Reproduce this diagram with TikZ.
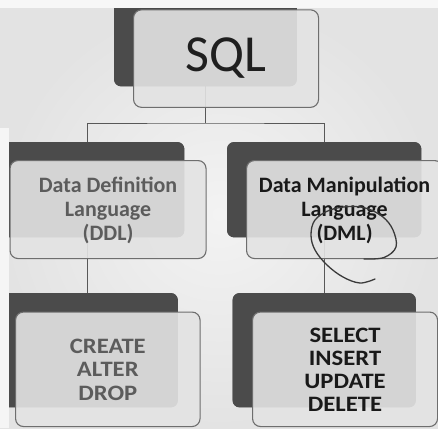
\documentclass[tikz,border=0pt]{standalone}
\usepackage{fontspec}
\setmainfont{Carlito}
\definecolor{bgin}{HTML}{F3F3F3}
\definecolor{bgout}{HTML}{E3E3E3}
\definecolor{shadowc}{HTML}{4B4B4B}
\definecolor{frontc}{HTML}{E3E3E3}
\definecolor{edgec}{HTML}{6E6E6E}
\definecolor{linec}{HTML}{585858}
\definecolor{greytext}{HTML}{5C5C5C}
\definecolor{pen}{HTML}{3A3A3A}
\tikzset{
  backbox/.style={fill=shadowc, draw=none, rounded corners=7pt, inner sep=0pt, anchor=north west},
  frontbox/.style={fill=frontc, fill opacity=0.9, text opacity=1, draw=edgec, line width=1.1pt, rounded corners=8pt, inner sep=0pt, anchor=north west},
  conn/.style={draw=linec, line width=0.9pt},
  bodytext/.style={align=center, font=\fontsize{22}{24}\selectfont\bfseries, inner sep=0pt},
  cmdtext/.style={inner sep=0pt},
}
\newcommand{\cmdlines}[2]{\scalebox{1.12}[1]{\fontsize{22}{#1}\selectfont\bfseries\begin{tabular}{@{}c@{}}#2\end{tabular}}}
\begin{document}
\begin{tikzpicture}[x=1pt, y=-1pt]
\useasboundingbox (0,0) rectangle (438,428);
\shade[inner color=bgin, outer color=bgout] (0,0) rectangle (438,428);

% back (shadow) boxes, used as connector ends
\node[backbox, minimum width=182.5pt, minimum height=98pt] (sqlS) at (114,-12) {};
\node[backbox, minimum width=194pt, minimum height=95pt] (ddlS) at (-10,142) {};
\node[backbox, minimum width=194pt, minimum height=95pt] (dmlS) at (227,142) {};
\node[backbox, minimum width=181pt, minimum height=114pt] (creS) at (-3.5,293) {};
\node[backbox, minimum width=183pt, minimum height=114pt] (selS) at (232.5,293) {};
\coordinate (hub) at (sqlS.south |- 0,123);

% connectors
\path[conn] (sqlS.south) -- (hub);
\path[conn] (ddlS.north) |- (hub) -| (dmlS.north);
\path[conn] (ddlS.south) -- (ddlS.south |- creS.north);
\path[conn] (dmlS.south) -- (dmlS.south |- selS.north);

% back boxes painted again over the connector ends
\foreach \b in {sqlS,ddlS,dmlS,creS,selS}
  \fill[shadowc, rounded corners=7pt] (\b.north west) rectangle (\b.south east);

% front boxes
\node[frontbox, minimum width=185pt, minimum height=97.5pt] (sqlF) at (133,9.3) {};
\node[frontbox, minimum width=196pt, minimum height=98pt] (ddlF) at (9.5,160) {};
\node[frontbox, minimum width=196pt, minimum height=98pt] (dmlF) at (246,160) {};
\node[frontbox, minimum width=184.5pt, minimum height=114.5pt] (creF) at (15,311.5) {};
\node[frontbox, minimum width=185pt, minimum height=114.5pt] (selF) at (252,311.5) {};

% texts
\node[font=\fontsize{52}{52}\selectfont, text=black!88, inner sep=0pt] (sqlT) at ([yshift=1pt]sqlF.center) {SQL};
\node[bodytext, text=greytext] (ddlT) at ([yshift=-0.5pt]ddlF.center) {Data Definition\\Language\\(DDL)};
\node[bodytext, text=black!90] (dmlT) at ([yshift=-0.5pt]dmlF.center) {Data Manipulation\\Language\\(DML)};
\node[cmdtext, text=greytext] (creT) at ([yshift=-2.5pt]creF.center) {\cmdlines{23.5}{CREATE\\ALTER\\DROP}};
\node[cmdtext, text=black!90] (selT) at ([yshift=-3.5pt]selF.center) {\cmdlines{23}{SELECT\\INSERT\\UPDATE\\DELETE}};

% pen annotation around (DML)
\draw[pen, line width=1.3pt, line cap=round] plot[smooth, tension=0.6] coordinates {
  (364,259) (384,257.5) (396,247) (393,230) (383,217) (367,208.5) (350,206.5)
  (330,210) (315,220) (311,235) (315,250) (327,265) (343,277) (360,283) (375,279)};

% screen-crop strips
\fill[white!97!black] (0,0) rectangle (438,8);
\fill[white!96!black] (0,128) rectangle (9,428);
\end{tikzpicture}
\end{document}
